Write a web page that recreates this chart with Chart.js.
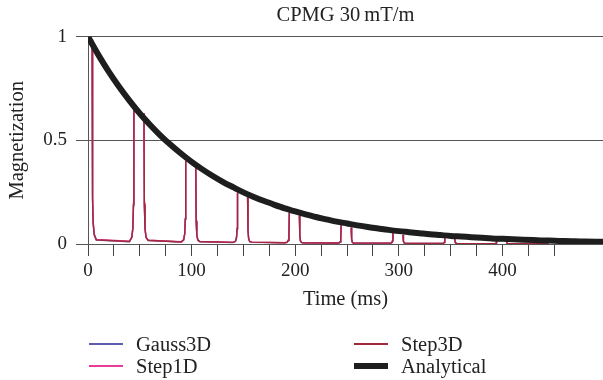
<!DOCTYPE html>
<html>
<head>
<meta charset="utf-8">
<script src="https://cdn.jsdelivr.net/npm/chart.js@4.4.1/dist/chart.umd.min.js"></script>
<style>
  body { margin: 0; background: #fff; }
  #wrap { position: relative; width: 603px; height: 380px; }
  .lg { position: absolute; font-family: 'Liberation Serif', serif; font-size: 20.5px; color: #222; line-height: 22px; }
  .lg span.sw { position: absolute; top: 50%; width: 34px; }
  .lg span.tx { position: absolute; white-space: nowrap; }
</style>
</head>
<body>
<div id="wrap">
  <canvas id="chart-cpmg" width="603" height="380"></canvas>
  <div id="legend"></div>
</div>
<script>
// echo signal sample times (ms)
const echoTime = [
  4, 4.4, 5, 6, 8,
  40, 42.3, 43.3, 43.9, 44.3, 50, 54, 54.4, 55, 56, 58,
  90, 92.3, 93.3, 93.9, 94.3, 100, 104, 104.4, 105, 106, 108,
  140, 142.3, 143.3, 143.9, 144.3, 150, 154, 154.4, 155, 156, 158,
  190, 192.3, 193.3, 193.9, 194.3, 200, 204, 204.4, 205, 206, 208,
  240, 242.3, 243.3, 243.9, 244.3, 250, 254, 254.4, 255, 256, 258,
  290, 292.3, 293.3, 293.9, 294.3, 300, 304, 304.4, 305, 306, 308,
  340, 342.3, 343.3, 343.9, 344.3, 350, 354, 354.4, 355, 356, 358,
  390, 392.3, 393.3, 393.9, 394.3, 400, 404, 404.4, 405, 406, 408,
  440, 442.3, 443.3, 443.9, 444.3, 450, 454, 454.4, 455, 456, 458,
  490, 497
];

const step3d = [
  0.98, 0.22, 0.10, 0.045, 0.02,
  0.012, 0.032, 0.077, 0.19, 0.645, null, 0.63, 0.19, 0.076, 0.032, 0.018,
  0.010, 0.020, 0.048, 0.12, 0.40, null, 0.372, 0.11, 0.045, 0.019, 0.012,
  0.008, 0.013, 0.030, 0.074, 0.246, null, 0.226, 0.068, 0.027, 0.012, 0.009,
  0.006, 0.009, 0.018, 0.046, 0.152, null, 0.137, 0.041, 0.016, 0.008, 0.006,
  0.005, 0.006, 0.011, 0.027, 0.090, null, 0.079, 0.024, 0.010, 0.005, 0.004,
  0.004, 0.004, 0.007, 0.016, 0.052, null, 0.044, 0.013, 0.006, 0.004, 0.003,
  0.003, 0.003, 0.004, 0.009, 0.028, null, 0.024, 0.008, 0.004, 0.002, 0.002,
  0.002, 0.002, 0.003, 0.005, 0.015, null, 0.013, 0.004, 0.003, 0.002, 0.002,
  0.002, 0.002, 0.002, 0.003, 0.008, null, 0.007, 0.003, 0.002, 0.001, 0.001,
  0.001, 0.001
];

const step1d = [
  0.985, 0.23, 0.11, 0.05, 0.022,
  0.013, 0.034, 0.08, 0.2, 0.648, null, 0.632, 0.2, 0.08, 0.034, 0.018,
  0.011, 0.021, 0.05, 0.125, 0.402, null, 0.375, 0.115, 0.047, 0.02, 0.012,
  0.008, 0.014, 0.031, 0.077, 0.248, null, 0.228, 0.07, 0.028, 0.013, 0.009,
  0.006, 0.009, 0.019, 0.048, 0.154, null, 0.139, 0.043, 0.017, 0.008, 0.006,
  0.005, 0.006, 0.011, 0.028, 0.091, null, 0.08, 0.025, 0.010, 0.005, 0.004,
  0.004, 0.004, 0.007, 0.017, 0.053, null, 0.045, 0.014, 0.006, 0.004, 0.003,
  0.003, 0.003, 0.004, 0.009, 0.029, null, 0.025, 0.008, 0.004, 0.002, 0.002,
  0.002, 0.002, 0.003, 0.005, 0.016, null, 0.014, 0.004, 0.003, 0.002, 0.002,
  0.002, 0.002, 0.002, 0.003, 0.008, null, 0.007, 0.003, 0.002, 0.001, 0.001,
  0.001, 0.001
];

const gauss3d = [
  0.975, 0.21, 0.095, 0.043, 0.019,
  0.011, 0.031, 0.075, 0.185, 0.64, null, 0.626, 0.185, 0.074, 0.031, 0.017,
  0.010, 0.019, 0.047, 0.118, 0.397, null, 0.369, 0.108, 0.044, 0.018, 0.011,
  0.007, 0.012, 0.029, 0.072, 0.244, null, 0.224, 0.066, 0.026, 0.011, 0.008,
  0.006, 0.008, 0.017, 0.045, 0.150, null, 0.135, 0.040, 0.015, 0.007, 0.005,
  0.005, 0.005, 0.010, 0.026, 0.089, null, 0.078, 0.023, 0.009, 0.005, 0.004,
  0.004, 0.004, 0.006, 0.015, 0.051, null, 0.043, 0.012, 0.006, 0.003, 0.003,
  0.003, 0.003, 0.004, 0.008, 0.027, null, 0.023, 0.007, 0.004, 0.002, 0.002,
  0.002, 0.002, 0.003, 0.005, 0.014, null, 0.012, 0.004, 0.003, 0.002, 0.002,
  0.002, 0.002, 0.002, 0.003, 0.007, null, 0.006, 0.003, 0.002, 0.001, 0.001,
  0.001, 0.001
];

// analytical decay, read every 10 ms
const analyticTime = [0, 10, 20, 30, 40, 50, 60, 70, 80, 90, 100, 110, 120, 130, 140, 150,
  160, 170, 180, 190, 200, 210, 220, 230, 240, 250, 260, 270, 280, 290, 300, 310, 320,
  330, 340, 350, 360, 370, 380, 390, 400, 410, 420, 430, 440, 450, 460, 470, 480, 490, 500];
const analytical = [1, 0.912, 0.831, 0.758, 0.691, 0.629, 0.574, 0.523, 0.477, 0.435, 0.396,
  0.361, 0.329, 0.300, 0.274, 0.249, 0.227, 0.207, 0.189, 0.172, 0.157, 0.143, 0.130, 0.119,
  0.108, 0.099, 0.090, 0.082, 0.075, 0.068, 0.062, 0.057, 0.052, 0.047, 0.043, 0.039, 0.036,
  0.033, 0.030, 0.027, 0.025, 0.023, 0.021, 0.019, 0.017, 0.016, 0.014, 0.013, 0.012, 0.011, 0.010];

const yTicks = [0, 0.5, 1];
const xLabelEvery = 100;

const colors = {
  Gauss3D: '#5c5cb0',
  Step1D: '#e83c96',
  Step3D: '#a3283a',
  Analytical: '#1e1e1e'
};

const pts = (xs, ys) => xs.map((x, i) => ({ x: x, y: ys[i] }));

Chart.defaults.font.family = "'Liberation Serif', serif";
Chart.defaults.font.size = 19;
Chart.defaults.color = '#222';

const cpmg = document.getElementById('chart-cpmg');

new Chart(cpmg, {
  type: 'line',
  data: {
    datasets: [
      { label: 'Analytical', data: pts(analyticTime, analytical), borderColor: colors.Analytical, borderWidth: 6, pointRadius: 0, cubicInterpolationMode: 'monotone' },
      { label: 'Step3D', data: pts(echoTime, step3d), borderColor: colors.Step3D, borderWidth: 1.4, pointRadius: 0, spanGaps: false },
      { label: 'Step1D', data: pts(echoTime, step1d), borderColor: colors.Step1D, borderWidth: 1.4, pointRadius: 0, spanGaps: false },
      { label: 'Gauss3D', data: pts(echoTime, gauss3d), borderColor: colors.Gauss3D, borderWidth: 1.4, pointRadius: 0, spanGaps: false }
    ]
  },
  options: {
    responsive: false,
    animation: false,
    layout: { padding: { top: 0, bottom: 60, left: 0, right: 0 } },
    plugins: {
      legend: { display: false },
      tooltip: { enabled: false },
      title: {
        display: true,
        text: 'CPMG 30\u2009mT/m',
        fullSize: false,
        font: { size: 20.5, weight: 'normal' },
        color: '#222',
        padding: { top: 3, bottom: 9 }
      }
    },
    scales: {
      x: {
        type: 'linear',
        min: 0,
        max: 497,
        afterBuildTicks: s => { s.ticks = s.ticks.filter(t => t.value % 25 === 0); },
        afterFit: s => { s.height = 76; },
        ticks: {
          stepSize: 25,
          autoSkip: false,
          maxRotation: 0,
          padding: 4,
          callback: v => (v % xLabelEvery === 0 ? String(v) : '')
        },
        grid: { drawOnChartArea: false, tickLength: 12, color: '#444', lineWidth: 1 },
        border: { display: true, color: '#555' },
        title: { display: true, text: 'Time (ms)', font: { size: 20.5 }, padding: { top: 0, bottom: 8 } }
      },
      y: {
        min: 0,
        max: 1,
        afterBuildTicks: s => { s.ticks = yTicks.map(v => ({ value: v })); },
        afterFit: s => { s.width = 88; },
        ticks: { padding: 9, callback: v => String(v) },
        grid: { tickLength: 12, color: '#555', lineWidth: 1 },
        border: { display: true, color: '#555' },
        title: { display: true, text: 'Magnetization', font: { size: 20.5 }, padding: { top: 5, bottom: 0 } }
      }
    }
  }
});

// two-column legend under the plot
const legendItems = [
  { name: 'Gauss3D', col: 0, row: 0, w: 2 },
  { name: 'Step1D', col: 0, row: 1, w: 2 },
  { name: 'Step3D', col: 1, row: 0, w: 2 },
  { name: 'Analytical', col: 1, row: 1, w: 6 }
];
const colX = [89, 354];
const rowY = [333, 355];
const legend = document.getElementById('legend');
legendItems.forEach(it => {
  const d = document.createElement('div');
  d.className = 'lg';
  d.style.left = colX[it.col] + 'px';
  d.style.top = rowY[it.row] + 'px';
  d.style.height = '22px';
  d.style.width = '200px';
  const sw = document.createElement('span');
  sw.className = 'sw';
  sw.style.height = it.w + 'px';
  sw.style.marginTop = (-it.w / 2) + 'px';
  sw.style.background = colors[it.name];
  const tx = document.createElement('span');
  tx.className = 'tx';
  tx.style.left = '47px';
  tx.textContent = it.name;
  d.appendChild(sw);
  d.appendChild(tx);
  legend.appendChild(d);
});
</script>
</body>
</html>
